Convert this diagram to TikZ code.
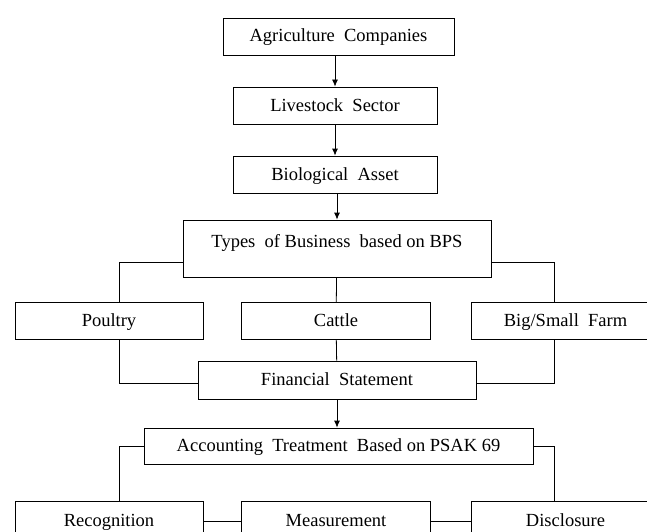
\documentclass[tikz,border=0pt]{standalone}
\usepackage{fontspec}
\setmainfont{Liberation Serif}
\usetikzlibrary{arrows.meta}
\newcommand{\wgap}{\hspace{0.5em}}

\begin{document}
\begin{tikzpicture}[x=1pt, y=-1pt,
		box/.style={draw, line width=.8pt, inner sep=0pt, minimum height=37pt, text height=14pt, text depth=3pt, font=\fontsize{18.5}{22}\selectfont},
		link/.style={line width=.8pt},
		tip/.style={link, -{Latex[length=7pt, width=6pt]}}]
		\useasboundingbox (0, 0) rectangle (647, 532);
		
		% Cadena superior
		\node[box, minimum width=231pt] (agri) at (338.5, 36.5) {Agriculture\wgap Companies};
		\node[box, minimum width=204pt] (live) at (335, 105.5) {Livestock\wgap Sector};
		\node[box, minimum width=204pt] (bio) at (335, 174.5) {Biological\wgap Asset};
		\node[box, minimum width=308pt, text height=27pt, text depth=30pt] (types) at (337, 248.5) {Types\wgap of Business\wgap based on BPS};
		
		% Tipos
		\node[box, minimum width=188pt] (poul) at (109, 321) {Poultry};
		\node[box, minimum width=189pt] (cattle) at (336, 321) {Cattle};
		\node[box, minimum width=189pt] (farm) at (565.5, 321) {Big/Small\wgap Farm};
		\node[box, minimum width=278pt, minimum height=38pt] (fin) at (337, 380) {Financial\wgap Statement};
		
		% Tratamiento
		\node[box, minimum width=389pt, minimum height=36pt] (acc) at (338.5, 446) {Accounting\wgap Treatment\wgap Based on PSAK 69};
		\node[box, minimum width=188pt, minimum height=40pt] (rec) at (109, 521) {Recognition};
		\node[box, minimum width=189pt, minimum height=40pt] (meas) at (336, 521) {Measurement};
		\node[box, minimum width=189pt, minimum height=40pt] (disc) at (565.5, 521) {Disclosure};
		
		% Flechas
		\draw[tip] (live.north |- agri.south) -- (live.north);
		\draw[tip] (live) -- (bio);
		\draw[tip] (bio.south -| types.north) -- (types.north);
		\draw[tip] (fin) -- (fin.south |- acc.north);
		
		% Lineas
		\draw[link] ([yshift=-13.5pt]types.west) -| ([xshift=10pt]poul.north);
		\draw[link] (types) -- (cattle);
		\draw[link] ([yshift=-13.5pt]types.east) -| ([xshift=-11.5pt]farm.north);
		\draw[link] ([xshift=10pt]poul.south) |- ([yshift=-3pt]fin.west);
		\draw[link] (cattle) -- (fin);
		\draw[link] ([xshift=-11.5pt]farm.south) |- ([yshift=-3pt]fin.east);
		\draw[link] (acc.west) -| ([xshift=10pt]rec.north);
		\draw[link] (acc.east) -| ([xshift=-11.5pt]disc.north);
		\draw[link] (rec) -- (meas);
		\draw[link] (meas) -- (disc);
	\end{tikzpicture}
\end{document}
